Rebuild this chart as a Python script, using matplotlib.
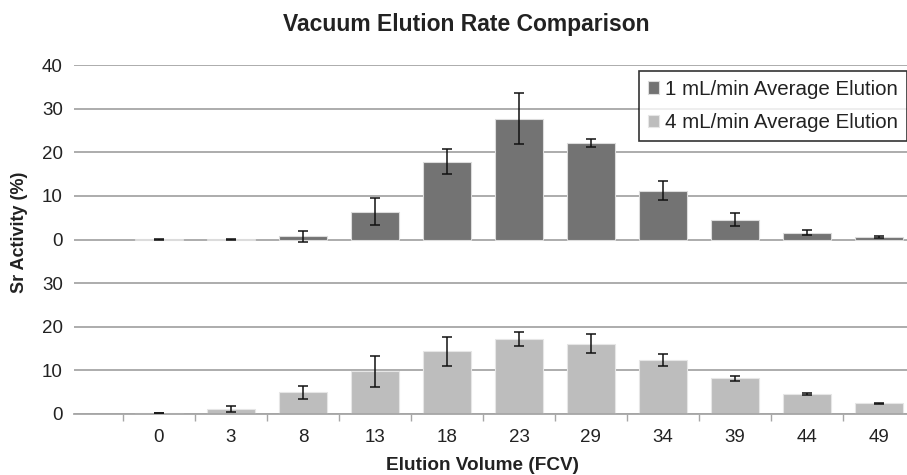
import numpy as np
import matplotlib.pyplot as plt

# elution volume categories (FCV)
labels = ["0", "3", "8", "13", "18", "23", "29", "34", "39", "44", "49"]

# 1 mL/min average elution (%) and error
rate1 = [0.05, 0.05, 0.7, 6.4, 17.8, 27.7, 22.1, 11.2, 4.5, 1.6, 0.6]
err1 = [0.05, 0.05, 1.3, 3.0, 2.9, 5.8, 0.9, 2.2, 1.5, 0.6, 0.2]

# 4 mL/min average elution (%) and error
rate4 = [0.25, 1.2, 4.95, 9.8, 14.4, 17.3, 16.1, 12.4, 8.2, 4.6, 2.45]
err4 = [0.0, 0.7, 1.5, 3.5, 3.3, 1.6, 2.2, 1.3, 0.55, 0.15, 0.1]

OFFSET = 40  # lower panel shifted down on the same axis

plt.rcParams["font.family"] = ["Liberation Sans", "DejaVu Sans"]

fig = plt.figure(figsize=(9.07, 4.75), dpi=100)
ax = fig.add_axes([74 / 907, 61 / 475, 833 / 907, 349 / 475])

x = np.arange(len(labels))
grid_c = "#a6a6a6"

for yv in range(-OFFSET, 41, 10):
    ax.axhline(yv, color=grid_c, lw=1.3, zorder=0)

ax.bar(x, rate1, width=0.66, color="#737373", edgecolor="#dcdcdc",
       linewidth=0.8, zorder=2, label="1 mL/min Average Elution")
ax.errorbar(x, rate1, yerr=err1, fmt="none", ecolor="#111111",
            elinewidth=1.1, capsize=3.8, capthick=1.1, zorder=3)

lower = np.array(rate4) - OFFSET
ax.bar(x, rate4, bottom=-OFFSET, width=0.66, color="#bdbdbd",
       edgecolor="#e6e6e6", linewidth=0.8, zorder=2,
       label="4 mL/min Average Elution")
ax.errorbar(x, lower, yerr=err4, fmt="none", ecolor="#111111",
            elinewidth=1.1, capsize=3.8, capthick=1.1, zorder=3)

ax.set_xlim(-1.18, 10.39)
ax.set_ylim(-OFFSET, 40)

yt = list(range(-OFFSET, 41, 10))
ax.set_yticks(yt)
ax.set_yticklabels([str(v + OFFSET) if v < 0 else str(v) for v in yt])
ax.tick_params(axis="y", length=0, pad=8, labelsize=13.5, labelcolor="#222222")

ax.set_xticks(x)
ax.set_xticklabels(labels)
ax.set_xticks(np.arange(-0.5, 10, 1.0), minor=True)
ax.tick_params(axis="x", which="major", length=0, pad=11, labelsize=13.5,
               labelcolor="#222222")
ax.tick_params(axis="x", which="minor", length=5, width=1, color=grid_c)

for s in ["top", "right", "left"]:
    ax.spines[s].set_visible(False)
ax.spines["bottom"].set_color(grid_c)
ax.spines["bottom"].set_linewidth(1.3)

ax.set_xlabel("Elution Volume (FCV)", fontsize=13.7, fontweight="bold",
              color="#222222", va="center")
ax.xaxis.set_label_coords(482 / 907, 1 - 465 / 475, transform=fig.transFigure)
fig.text(20 / 907, 1 - 232 / 475, "Sr Activity (%)", rotation=90,
         fontsize=13, fontweight="bold", color="#222222",
         ha="center", va="center")
fig.text(466 / 907, 1 - 24 / 475, "Vacuum Elution Rate Comparison",
         fontsize=16.5, fontweight="bold", color="#222222",
         ha="center", va="center")

leg = ax.legend(loc="upper right", bbox_to_anchor=(1.0, 1 - 71 / 475),
                bbox_transform=fig.transFigure, fontsize=14.8,
                frameon=True, fancybox=False, handlelength=0.55,
                handleheight=0.55, handletextpad=0.3, borderpad=0.42,
                labelspacing=0.72, borderaxespad=0)
leg.get_frame().set_edgecolor("black")
leg.get_frame().set_linewidth(1.2)
for t in leg.get_texts():
    t.set_color("#222222")

fig.savefig("out.png", dpi=100)
